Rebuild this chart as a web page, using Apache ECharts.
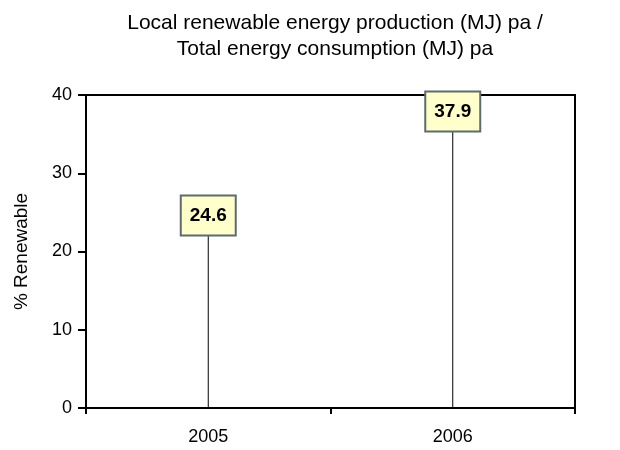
<!DOCTYPE html>
<html>
<head>
<meta charset="utf-8">
<script src="https://cdn.jsdelivr.net/npm/echarts@6/dist/echarts.min.js"></script>
<style>
html,body{margin:0;padding:0;background:#fff;}
#chart{width:620px;height:450px;}
</style>
</head>
<body>
<div id="chart"></div>
<script>
const years = ['2005', '2006'];
const renewablePct = [24.6, 37.9];
const yTicks = { min: 0, max: 40, interval: 10 };

const font = '"Liberation Sans", Arial, sans-serif';
const chart = echarts.init(document.getElementById('chart'), null, { renderer: 'canvas' });

chart.setOption({
  animation: false,
  title: {
    text: 'Local renewable energy production (MJ) pa /\nTotal energy consumption (MJ) pa',
    left: 330,
    textAlign: 'center',
    top: 5,
    textStyle: { fontFamily: font, fontSize: 21, fontWeight: 'normal', color: '#000', lineHeight: 26 }
  },
  grid: {
    left: 86, right: 45, top: 95, bottom: 42,
    containLabel: false,
    outerBoundsMode: 'none',
    show: true, borderColor: '#000', borderWidth: 2, backgroundColor: 'transparent'
  },
  xAxis: {
    type: 'category',
    data: years,
    boundaryGap: true,
    axisLine: { lineStyle: { color: '#000', width: 2 } },
    axisTick: { show: true, length: 6, lineStyle: { color: '#000', width: 2 } },
    axisLabel: { color: '#000', fontFamily: font, fontSize: 18, margin: 20 }
  },
  yAxis: {
    type: 'value',
    min: yTicks.min, max: yTicks.max, interval: yTicks.interval,
    name: '% Renewable',
    nameLocation: 'middle',
    nameGap: 55,
    nameTextStyle: { color: '#000', fontFamily: font, fontSize: 19 },
    axisLine: { show: true, lineStyle: { color: '#000', width: 2 } },
    axisTick: { show: true, length: 8, lineStyle: { color: '#000', width: 2 } },
    axisLabel: { color: '#000', fontFamily: font, fontSize: 18, margin: 14 },
    splitLine: { show: false }
  },
  series: [
    {
      // drop lines from zero to each value
      type: 'bar',
      data: renewablePct,
      barWidth: 1,
      itemStyle: { color: '#000' },
      z: 2
    },
    {
      // value boxes centred on each value
      type: 'scatter',
      data: renewablePct,
      symbolSize: 0,
      itemStyle: { opacity: 1 },
      z: 5,
      label: {
        show: true,
        position: 'inside',
        formatter: p => p.value.toFixed(1),
        color: '#000',
        fontFamily: font,
        fontSize: 19,
        fontWeight: 'bold',
        backgroundColor: '#ffffcc',
        borderColor: '#5f6b6b',
        borderWidth: 2,
        padding: [10, 8, 9, 8]
      }
    }
  ]
});
</script>
</body>
</html>
